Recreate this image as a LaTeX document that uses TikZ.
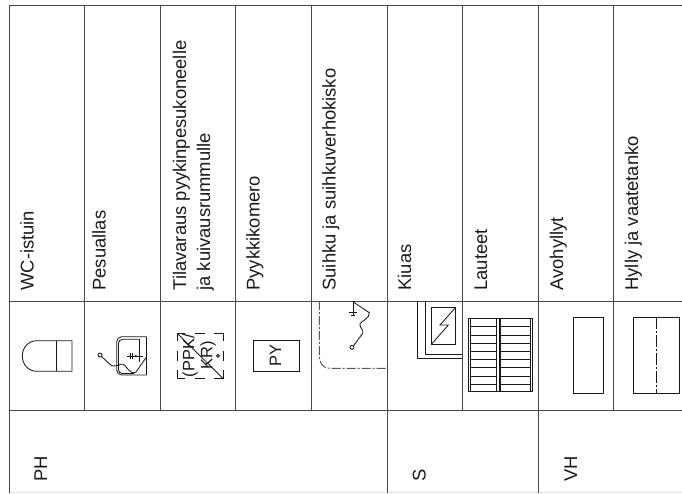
\documentclass[tikz,border=0pt]{standalone}
\usepackage{fontspec}
\setmainfont{Liberation Sans}
\begin{document}
\begin{tikzpicture}[x=1pt,y=-1pt,
  grid/.style={draw=black!72,line width=1pt},
  sym/.style={draw=black!90,line width=0.85pt},
  lbl/.style={rotate=90,anchor=base west,inner sep=0pt,font=\fontsize{18.4}{22}\selectfont,text=black!90},
  cen/.style={rotate=90,anchor=center,inner sep=0pt,font=\fontsize{16.5}{20}\selectfont,text=black!90},
  ppkedge/.style={sym,dash pattern=on 8pt off 9.5pt on 10pt off 9.5pt on 9pt}]
\useasboundingbox (0,0) rectangle (682,493);
% table
\draw[grid] (9,5) -- (682,5);
\draw[grid] (9,301) -- (682,301);
\draw[grid] (9,410.5) -- (682,410.5);
\draw[black!12,line width=0.6pt] (9,492) -- (682,492);
\foreach \x in {9,387,538}{\draw[grid] (\x,5) -- (\x,493);}
\foreach \x in {84.7,160.3,235.8,311.4,462.3,613.7}{\draw[grid] (\x,5) -- (\x,410.5);}
% labels
\node[lbl] (t1) at (33.5,290.7) {WC-istuin};
\node[lbl] (t2) at (105.6,290.7) {Pesuallas};
\node[lbl] (t3a) at (186,290.7) {Tilavaraus pyykinpesukoneelle};
\node[lbl] (t3b) at (210,290.7) {ja kuivausrummulle};
\node[lbl] (t4) at (259.6,290.7) {Pyykkikomero};
\node[lbl] (t5) at (335.6,290.7) {Suihku ja suihkuverhokisko};
\node[lbl] (t6) at (411,290.7) {Kiuas};
\node[lbl] (t7) at (487,290.7) {Lauteet};
\node[lbl] (t8) at (563,290.7) {Avohyllyt};
\node[lbl] (t9) at (638,290.7) {Hylly ja vaatetanko};
\node[lbl] (g1) at (47,482) {PH};
\node[lbl] (g2) at (425.7,482) {S};
\node[lbl] (g3) at (577,482) {VH};
% WC
\draw[sym] (37,340.7) -- (72,340.7) -- (72,371.3) -- (37,371.3) .. controls (28,371.3) and (22.3,364) .. (22.3,356) .. controls (22.3,348) and (28,340.7) .. (37,340.7);
\draw[sym] (56.7,340.7) -- (56.7,371.3);
% basin
\draw[sym,rounded corners=5pt] (146.7,336.7) -- (116.7,336.7) -- (116.7,375) -- (146.7,375);
\draw[sym] (146.7,336.7) -- (146.7,375);
\draw[sym,rounded corners=4pt] (139.3,339.3) -- (118.5,339.3) -- (118.5,373.6) -- (134,373.6);
\draw[sym] (139.3,339.3) -- (139.3,362);
\draw[sym] (100,355) circle (2);
\draw[sym] (101.5,356.5) -- (109,363.5) .. controls (112,367) and (115,366) .. (118,365.5) .. controls (122,363) and (124,364) .. (127,368) .. controls (130,372) and (133,374) .. (136,372) -- (146.7,356.7);
\draw[sym] (127,356) -- (143,356);
\draw[sym] (130.7,353) -- (130.7,359) (132.7,353) -- (132.7,359);
\fill[black!85] (135.7,356) circle (1.2);
% PPK
\draw[ppkedge] (177.3,333.3) -- (223.3,333.3);
\draw[ppkedge] (177.3,378.7) -- (223.3,378.7);
\draw[ppkedge] (177.3,333.3) -- (177.3,378.7);
\draw[ppkedge] (223.3,333.3) -- (223.3,378.7);
\draw[sym] (177.3,333.3) -- (223.3,378.7);
\node[cen] (p1) at (190,355.5) {(PPK/};
\node[cen] (p2) at (208,355.5) {KR)};
\draw[sym] (218,355.7) circle (1.5);
% PY
\draw[sym] (253.3,340.7) rectangle (299,371.3);
\node[cen] (py) at (275.5,355.6) {PY};
% shower
\draw[sym,black!65,line width=1pt,dash pattern=on 9pt off 2pt on 2pt off 2pt] (319.3,301) -- (319.3,356) .. controls (319.3,362) and (322,368.3) .. (330,368.3) -- (387,368.3);
\draw[sym] (353.3,301) -- (353.3,315);
\draw[sym] (349.3,312.7) -- (357.3,312.7) (351.3,315) -- (355.3,315);
\draw[sym] (353.3,302) -- (369.3,312.7) .. controls (370,318) and (362,321) .. (360,323.5) .. controls (359,327) and (364,330) .. (362.7,333.3) -- (353.5,345.8);
\draw[sym] (352,347.3) circle (2);
% stove
\draw[sym] (417.3,301) -- (417.3,358.3) -- (462.3,358.3);
\draw[sym] (425,301) -- (425,354.3) -- (462.3,354.3);
\draw[sym] (431.7,307.3) rectangle (455.7,344);
\draw[sym] (455.7,307.3) -- (440,325) -- (448.3,325) -- (431.7,344);
% benches
\draw[sym] (468.3,318.3) rectangle (532.3,391.3);
\foreach \x in {470.7,496.7,499,500.7,530.7}{\draw[sym] (\x,318.3) -- (\x,391.3);}
\foreach \y in {326.7,335,343.3,351.7,359.7,367.7,376,384.3}{\draw[sym] (470.7,\y) -- (496.7,\y) (500.7,\y) -- (530.7,\y);}
% shelves
\draw[sym] (573,317.3) rectangle (603.3,393);
\draw[sym] (633.3,317.3) rectangle (679,393);
\draw[sym,dash pattern=on 12pt off 2pt on 2pt off 2pt] (656.3,317.3) -- (656.3,393);
\end{tikzpicture}
\end{document}
